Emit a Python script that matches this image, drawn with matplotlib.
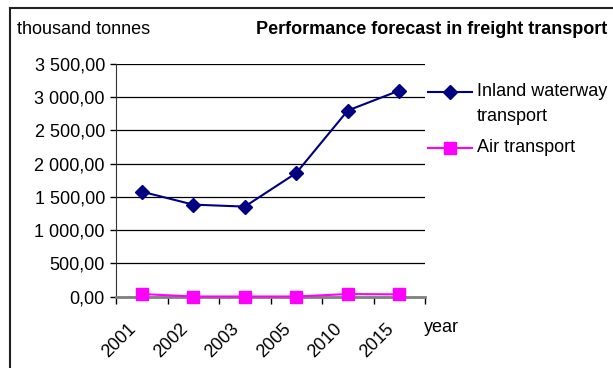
import numpy as np
import matplotlib.pyplot as plt
import matplotlib.transforms as mtransforms
from matplotlib.lines import Line2D
from matplotlib.ticker import FuncFormatter, FixedLocator

plt.rcParams['font.family'] = ['Liberation Sans', 'DejaVu Sans']

years = ['2001', '2002', '2003', '2005', '2010', '2015']
inland = [1580, 1385, 1355, 1860, 2800, 3100]
air = [40, 3, 3, 3, 40, 35]
series_names = ['Inland waterway\ntransport', 'Air transport']

fig = plt.figure(figsize=(6.13, 3.68), dpi=100)
W, H = 613, 368
ax = fig.add_axes([116 / W, 1 - 296.7 / H, (425 - 116) / W, (296.7 - 64) / H])

x = np.arange(len(years))
l1, = ax.plot(x, inland, color='#000080', lw=1.5, marker='D', ms=7.5,
              mec='#000080', mfc='#000080', clip_on=False, zorder=4)
l2, = ax.plot(x, air, color='#FF00FF', lw=1.5, marker='s', ms=8,
              mec='#FF00FF', mfc='#FF00FF', clip_on=False, zorder=4)

ax.set_xlim(-0.5, len(years) - 0.5)
ax.set_ylim(0, 3500)
ax.set_yticks(np.arange(0, 3501, 500))
ax.yaxis.set_major_formatter(FuncFormatter(
    lambda v, p: f"{v:,.2f}".replace(',', ' ').replace('.', ',')))
ax.yaxis.grid(True, color='black', lw=0.9)
ax.set_axisbelow(True)

# tick marks between categories, labels at the centres
ax.xaxis.set_major_locator(FixedLocator(np.arange(-0.5, len(years), 1.0)))
ax.xaxis.set_major_formatter(FuncFormatter(lambda v, p: ''))
ax.xaxis.set_minor_locator(FixedLocator(x))
ax.set_xticklabels(years, minor=True)
ax.tick_params(axis='x', which='major', length=5, width=1, color='black', direction='out')
ax.tick_params(axis='x', which='minor', length=0, pad=8, labelsize=13)
shift = mtransforms.ScaledTranslation(-14 / 100, -13 / 100, fig.dpi_scale_trans)
for lab in ax.get_xticklabels(minor=True):
    lab.set_rotation(45)
    lab.set_ha('right')
    lab.set_va('top')
    lab.set_rotation_mode('anchor')
    lab.set_transform(lab.get_transform() + shift)
ax.tick_params(axis='y', length=4, width=1, color='black', labelsize=13, pad=4)

for s in ['top', 'right']:
    ax.spines[s].set_visible(False)
ax.spines['left'].set_color('#333333')
ax.spines['bottom'].set_color('#808080')
ax.spines['bottom'].set_linewidth(2)

fig.text(17 / W, 1 - 30 / H, 'thousand tonnes', fontsize=13, ha='left', va='center')
fig.text(607 / W, 1 - 30 / H, 'Performance forecast in freight transport',
         fontsize=13, fontweight='bold', ha='right', va='center')
fig.text(424 / W, 1 - 328 / H, 'year', fontsize=13, ha='left', va='center')

# legend drawn beside the plot
for line, name, ypx in [(l1, series_names[0], 92), (l2, series_names[1], 148)]:
    yf = 1 - ypx / H
    fig.add_artist(Line2D([428 / W, 472 / W], [yf, yf], transform=fig.transFigure,
                          color=line.get_color(), lw=1.5))
    fig.add_artist(Line2D([450 / W], [yf], transform=fig.transFigure,
                          marker=line.get_marker(), ms=line.get_markersize(),
                          color=line.get_color(), lw=0))
    fig.text(477 / W, yf + 9 / H, name, fontsize=13, ha='left', va='top',
             linespacing=1.6)

# chart frame (left and top edges fall inside the image)
fig.add_artist(Line2D([9.5 / W, 9.5 / W], [0, 1 - 7.5 / H], transform=fig.transFigure,
                      color='#222222', lw=1.5, solid_capstyle='projecting'))
fig.add_artist(Line2D([9.5 / W, 1], [1 - 7.5 / H, 1 - 7.5 / H], transform=fig.transFigure,
                      color='#222222', lw=1.5, solid_capstyle='projecting'))

fig.savefig('out.png', dpi=100)
